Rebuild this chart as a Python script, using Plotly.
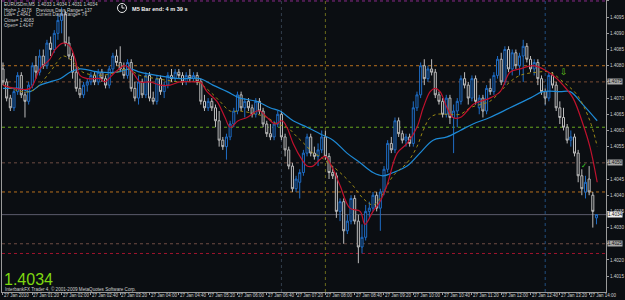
import plotly.graph_objects as go

# ---------------- data ----------------
symbol_header = "EURUSDm,M5  1.4033 1.4034 1.4031 1.4034"
info_left = ["High= 1.4178", "Low= 1.4041", "Close= 1.4083", "Open= 1.4147"]
info_right = ["Previous Days Range= 137", "Current Days Range= 76"]
bar_timer = "M5 Bar end: 4 m 39 s"
last_price = "1.4034"
copyright_text = "InterbankFX Trader 4, \u00a9 2001-2009 MetaQuotes Software Corp."

opens = [
    1.4079, 1.4075, 1.4070, 1.4067, 1.4072, 1.4077, 1.4071, 1.4069, 1.4074, 1.4080,
    1.4078, 1.4083, 1.4080, 1.4087, 1.4085, 1.4090, 1.4094, 1.4096, 1.4087, 1.4083,
    1.4078, 1.4073, 1.4071, 1.4074, 1.4075, 1.4077, 1.4075, 1.4078, 1.4076, 1.4074,
    1.4079, 1.4083, 1.4081, 1.4079, 1.4077, 1.4081, 1.4073, 1.4070, 1.4075, 1.4071,
    1.4077, 1.4070, 1.4069, 1.4076, 1.4072, 1.4074, 1.4077, 1.4076, 1.4078, 1.4077,
    1.4075, 1.4077, 1.4076, 1.4077, 1.4075, 1.4069, 1.4067, 1.4069, 1.4067, 1.4063,
    1.4057, 1.4055, 1.4058, 1.4062, 1.4066, 1.4071, 1.4067, 1.4069, 1.4067, 1.4065,
    1.4069, 1.4066, 1.4062, 1.4059, 1.4058, 1.4062, 1.4065, 1.4058, 1.4054, 1.4049,
    1.4042, 1.4044, 1.4047, 1.4053, 1.4058, 1.4053, 1.4052, 1.4054, 1.4058, 1.4052,
    1.4047, 1.4046, 1.4035, 1.4038, 1.4029, 1.4032, 1.4039, 1.4032, 1.4024, 1.4027,
    1.4035, 1.4036, 1.4040, 1.4036, 1.4041, 1.4048, 1.4056, 1.4054, 1.4063, 1.4059,
    1.4057, 1.4058, 1.4056, 1.4067, 1.4071, 1.4080, 1.4076, 1.4079, 1.4078, 1.4071,
    1.4069, 1.4065, 1.4070, 1.4064, 1.4066, 1.4069, 1.4076, 1.4074, 1.4070, 1.4076,
    1.4067, 1.4070, 1.4066, 1.4073, 1.4072, 1.4077, 1.4082, 1.4075, 1.4085, 1.4079,
    1.4084, 1.4080, 1.4083, 1.4086, 1.4082, 1.4079, 1.4081, 1.4076, 1.4072, 1.4070,
    1.4077, 1.4074, 1.4067, 1.4064, 1.4061, 1.4057, 1.4058, 1.4053, 1.4046, 1.4041,
    1.4045, 1.4040, 1.4033,
]
highs = [
    1.4081, 1.4076, 1.4071, 1.4073, 1.4078, 1.4078, 1.4072, 1.4075, 1.4081, 1.4083,
    1.4085, 1.4085, 1.4088, 1.4089, 1.4091, 1.4096, 1.4098, 1.4097, 1.4089, 1.4084,
    1.4080, 1.4076, 1.4075, 1.4076, 1.4078, 1.4078, 1.4079, 1.4079, 1.4077, 1.4080,
    1.4084, 1.4085, 1.4086, 1.4081, 1.4082, 1.4082, 1.4075, 1.4077, 1.4076, 1.4078,
    1.4078, 1.4072, 1.4077, 1.4077, 1.4075, 1.4078, 1.4079, 1.4079, 1.4079, 1.4078,
    1.4078, 1.4079, 1.4078, 1.4078, 1.4076, 1.4071, 1.4070, 1.4070, 1.4068, 1.4066,
    1.4058, 1.4059, 1.4063, 1.4067, 1.4072, 1.4072, 1.4070, 1.4070, 1.4068, 1.4070,
    1.4070, 1.4067, 1.4063, 1.4062, 1.4063, 1.4066, 1.4066, 1.4059, 1.4055, 1.4050,
    1.4046, 1.4048, 1.4054, 1.4059, 1.4059, 1.4055, 1.4056, 1.4060, 1.4060, 1.4053,
    1.4049, 1.4047, 1.4039, 1.4039, 1.4034, 1.4040, 1.4040, 1.4034, 1.4031, 1.4037,
    1.4038, 1.4041, 1.4041, 1.4042, 1.4049, 1.4057, 1.4058, 1.4064, 1.4064, 1.4060,
    1.4059, 1.4059, 1.4069, 1.4072, 1.4081, 1.4082, 1.4080, 1.4082, 1.4079, 1.4072,
    1.4070, 1.4071, 1.4071, 1.4068, 1.4070, 1.4077, 1.4078, 1.4075, 1.4077, 1.4077,
    1.4071, 1.4071, 1.4074, 1.4076, 1.4078, 1.4083, 1.4084, 1.4086, 1.4086, 1.4085,
    1.4085, 1.4084, 1.4088, 1.4087, 1.4083, 1.4082, 1.4082, 1.4077, 1.4073, 1.4078,
    1.4078, 1.4075, 1.4069, 1.4067, 1.4062, 1.4060, 1.4059, 1.4054, 1.4048, 1.4046,
    1.4049, 1.4041, 1.4034,
]
lows = [
    1.4074, 1.4069, 1.4066, 1.4066, 1.4071, 1.4070, 1.4064, 1.4068, 1.4073, 1.4076,
    1.4077, 1.4079, 1.4079, 1.4083, 1.4084, 1.4088, 1.4090, 1.4086, 1.4082, 1.4076,
    1.4072, 1.4070, 1.4070, 1.4072, 1.4074, 1.4074, 1.4074, 1.4075, 1.4073, 1.4073,
    1.4078, 1.4080, 1.4078, 1.4076, 1.4076, 1.4072, 1.4069, 1.4068, 1.4070, 1.4070,
    1.4069, 1.4068, 1.4068, 1.4071, 1.4070, 1.4073, 1.4075, 1.4075, 1.4076, 1.4074,
    1.4074, 1.4075, 1.4075, 1.4074, 1.4068, 1.4066, 1.4066, 1.4066, 1.4061, 1.4055,
    1.4054, 1.4051, 1.4057, 1.4061, 1.4065, 1.4066, 1.4064, 1.4066, 1.4064, 1.4064,
    1.4065, 1.4061, 1.4058, 1.4057, 1.4057, 1.4061, 1.4057, 1.4052, 1.4048, 1.4041,
    1.4041, 1.4039, 1.4046, 1.4052, 1.4052, 1.4051, 1.4049, 1.4053, 1.4051, 1.4045,
    1.4045, 1.4033, 1.4032, 1.4025, 1.4028, 1.4031, 1.4031, 1.4019, 1.4022, 1.4026,
    1.4033, 1.4035, 1.4035, 1.4029, 1.4040, 1.4047, 1.4053, 1.4053, 1.4058, 1.4056,
    1.4055, 1.4055, 1.4055, 1.4066, 1.4070, 1.4074, 1.4075, 1.4077, 1.4070, 1.4068,
    1.4064, 1.4064, 1.4062, 1.4053, 1.4061, 1.4068, 1.4073, 1.4068, 1.4069, 1.4068,
    1.4065, 1.4064, 1.4065, 1.4071, 1.4071, 1.4076, 1.4074, 1.4074, 1.4078, 1.4077,
    1.4079, 1.4077, 1.4075, 1.4081, 1.4078, 1.4077, 1.4074, 1.4071, 1.4068, 1.4069,
    1.4073, 1.4066, 1.4062, 1.4060, 1.4056, 1.4055, 1.4052, 1.4044, 1.4040, 1.4039,
    1.4040, 1.4030, 1.4031,
]
closes = [
    1.4075, 1.4070, 1.4067, 1.4072, 1.4077, 1.4071, 1.4069, 1.4074, 1.4080, 1.4078,
    1.4083, 1.4080, 1.4087, 1.4085, 1.4090, 1.4094, 1.4096, 1.4087, 1.4083, 1.4078,
    1.4073, 1.4071, 1.4074, 1.4075, 1.4077, 1.4075, 1.4078, 1.4076, 1.4074, 1.4079,
    1.4083, 1.4081, 1.4079, 1.4077, 1.4081, 1.4073, 1.4070, 1.4075, 1.4071, 1.4077,
    1.4070, 1.4069, 1.4076, 1.4072, 1.4074, 1.4077, 1.4076, 1.4078, 1.4077, 1.4075,
    1.4077, 1.4076, 1.4077, 1.4075, 1.4069, 1.4067, 1.4069, 1.4067, 1.4063, 1.4057,
    1.4055, 1.4058, 1.4062, 1.4066, 1.4071, 1.4067, 1.4069, 1.4067, 1.4065, 1.4069,
    1.4066, 1.4062, 1.4059, 1.4058, 1.4062, 1.4065, 1.4058, 1.4054, 1.4049, 1.4042,
    1.4045, 1.4047, 1.4053, 1.4058, 1.4053, 1.4052, 1.4054, 1.4058, 1.4052, 1.4047,
    1.4046, 1.4035, 1.4038, 1.4029, 1.4032, 1.4039, 1.4032, 1.4024, 1.4027, 1.4035,
    1.4036, 1.4040, 1.4036, 1.4041, 1.4048, 1.4056, 1.4054, 1.4063, 1.4059, 1.4057,
    1.4058, 1.4056, 1.4067, 1.4071, 1.4080, 1.4076, 1.4079, 1.4078, 1.4071, 1.4069,
    1.4065, 1.4070, 1.4064, 1.4066, 1.4069, 1.4076, 1.4074, 1.4070, 1.4076, 1.4069,
    1.4070, 1.4066, 1.4073, 1.4072, 1.4077, 1.4082, 1.4075, 1.4085, 1.4079, 1.4084,
    1.4080, 1.4083, 1.4086, 1.4082, 1.4079, 1.4081, 1.4076, 1.4072, 1.4070, 1.4077,
    1.4074, 1.4067, 1.4064, 1.4061, 1.4057, 1.4058, 1.4053, 1.4046, 1.4042, 1.4044,
    1.4041, 1.4035, 1.4034,
]

# moving averages: (bar position, price)
fast_ma_bars = [0, 3.3, 7.4, 10.1, 12.8, 14.2, 16.4, 18.3, 19.7, 21.0, 23.2, 26.5, 27.8, 30.6,
                33.3, 34.7, 36.0, 37.4, 40.1, 42.9, 45.6, 48.3, 51.9, 53.8, 55.7, 58.4, 60.6,
                62.0, 64.2, 66.6, 69.3, 70.2, 72.1, 74.3, 76.2, 77.5, 79.2, 81.6, 83.0, 84.6,
                86.5, 87.9, 90.1, 92.0, 94.7, 97.5, 98.8, 101.0, 102.9, 104.8, 107.6, 110.3,
                113.0, 114.7, 116.6, 117.9, 119.3, 121.2, 122.8, 124.8, 126.7, 128.3, 130.2,
                132.9, 135.7, 138.4, 141.1, 144.7, 147.4, 150.2, 152.9, 155.6, 158.3, 160.2, 162.2]
fast_ma_vals = [1.4074, 1.4073, 1.4073, 1.4079, 1.4082, 1.4085, 1.4087, 1.4086, 1.4082, 1.4077,
                1.4076, 1.4076, 1.4075, 1.4078, 1.4080, 1.4079, 1.4077, 1.4075, 1.4075, 1.4074,
                1.4074, 1.4075, 1.4075, 1.4075, 1.4072, 1.4069, 1.4064, 1.4061, 1.4063, 1.4064,
                1.4066, 1.4066, 1.4064, 1.4062, 1.4063, 1.4061, 1.4056, 1.4051, 1.4049, 1.4049,
                1.4051, 1.4052, 1.4048, 1.4043, 1.4036, 1.4035, 1.4031, 1.4035, 1.4038, 1.4043,
                1.4053, 1.4056, 1.4061, 1.4067, 1.4072, 1.4073, 1.4072, 1.4067, 1.4064, 1.4064,
                1.4066, 1.4068, 1.4069, 1.4070, 1.4072, 1.4078, 1.4079, 1.4080, 1.4079, 1.4077,
                1.4074, 1.4070, 1.4062, 1.4055, 1.4044]

slow_ma_bars = [0, 7.4, 12.8, 14.7, 16.4, 18.3, 20.2, 21.8, 26.5, 31.1, 33.9, 37.4, 42.0, 48.3,
                53.0, 56.5, 59.2, 62.0, 64.7, 69.3, 72.1, 74.8, 77.5, 80.3, 83.0, 84.6, 86.5,
                88.8, 92.0, 95.5, 98.3, 101.0, 102.9, 106.5, 110.3, 113.0, 114.7, 116.6, 118.5,
                121.2, 124.8, 127.5, 130.2, 132.9, 138.4, 141.1, 145.8, 149.3, 152.9, 156.7,
                160.2, 162.2]
slow_ma_vals = [1.4074, 1.4072, 1.4078, 1.4081, 1.4083, 1.4082, 1.4080, 1.4078, 1.4077, 1.4078,
                1.4079, 1.4077, 1.4076, 1.4075, 1.4075, 1.4072, 1.4069, 1.4066, 1.4066, 1.4065,
                1.4064, 1.4062, 1.4061, 1.4058, 1.4055, 1.4053, 1.4052, 1.4050, 1.4047, 1.4043,
                1.4039, 1.4037, 1.4039, 1.4046, 1.4050, 1.4055, 1.4060, 1.4064, 1.4065, 1.4065,
                1.4065, 1.4067, 1.4068, 1.4069, 1.4075, 1.4077, 1.4078, 1.4078, 1.4075, 1.4071,
                1.4063, 1.4055]

trend_ma_bars = [0, 1.9, 4.6, 7.4, 10.1, 12.8, 15.6, 18.3, 21.0, 26.5, 31.1, 34.7, 37.4, 42.0,
                 48.3, 53.8, 57.3, 61.2, 64.7, 69.3, 72.9, 75.6, 79.2, 83.0, 86.5, 90.1, 93.9,
                 97.5, 101.0, 103.7, 106.5, 110.3, 113.8, 117.4, 121.2, 124.8, 128.3, 132.9,
                 138.4, 143.9, 147.4, 152.1, 154.8, 158.3, 162.2]
trend_ma_vals = [1.4073, 1.4073, 1.4073, 1.4072, 1.4074, 1.4075, 1.4076, 1.4078, 1.4079, 1.4078,
                 1.4078, 1.4079, 1.4078, 1.4077, 1.4076, 1.4076, 1.4074, 1.4072, 1.4070, 1.4069,
                 1.4067, 1.4066, 1.4063, 1.4061, 1.4059, 1.4057, 1.4053, 1.4050, 1.4047, 1.4046,
                 1.4047, 1.4049, 1.4053, 1.4057, 1.4058, 1.4060, 1.4062, 1.4064, 1.4067, 1.4070,
                 1.4072, 1.4072, 1.4072, 1.4068, 1.4063]

# axis ticks
x_tick_bars = [0, 8, 16, 24, 32, 40, 48, 56, 64, 72, 80, 88, 96, 104, 112, 120, 128, 136, 144, 152, 160]
x_tick_labels = ["27 Jan 2010", "27 Jan 01:20", "27 Jan 02:00", "27 Jan 02:40", "27 Jan 03:20",
                 "27 Jan 04:00", "27 Jan 04:40", "27 Jan 05:20", "27 Jan 06:00", "27 Jan 06:40",
                 "27 Jan 07:20", "27 Jan 08:00", "27 Jan 08:40", "27 Jan 09:20", "27 Jan 10:00",
                 "27 Jan 10:40", "27 Jan 11:20", "27 Jan 12:00", "27 Jan 12:40", "27 Jan 13:20",
                 "27 Jan 14:00"]
y_tick_vals = [1.4015, 1.4020, 1.4025, 1.4030, 1.4035, 1.4040, 1.4045, 1.4050, 1.4055, 1.4060,
               1.4065, 1.4070, 1.4075, 1.4080, 1.4085, 1.4090, 1.4095, 1.4100]
y_tick_labels = ["1.4015", "1.4020", "1.4025", "1.4030", "1.4035", "1.4040", "1.4045", "1.4050",
                 "1.4055", "1.4060", "1.4065", "1.4070", "1.4075", "1.4080", "1.4085", "1.4090",
                 "1.4095", "1.4100"]

# horizontal price levels and vertical session lines
level_prices = [1.4100, 1.4080, 1.4075, 1.4061, 1.4050, 1.4041, 1.4034, 1.4025, 1.4022]
boxed_prices = [1.4075, 1.4050, 1.4034, 1.4025]
boxed_labels = ["1.4075", "1.4050", "1.4034", "1.4025"]
session_bars = [76, 88, 148]
signal_down_bar, signal_down_price = 153, 1.4078
signal_check_bar, signal_check_price = 158.5, 1.4049

# ---------------- styles ----------------
BG = "#0b0e12"
BULL = "#1f6dc6"
BEAR = "#bdbdbd"
TXT = "#cfcfcf"
FONT = "Liberation Sans, Arial"
level_styles = [
    dict(color="#8a2a8a", dash="dot"),
    dict(color="#b8701e", dash="dot"),
    dict(color="#7a4c34", dash="dot"),
    dict(color="#6aaa1e", dash="dot"),
    dict(color="#6e4c44", dash="dot"),
    dict(color="#b8701e", dash="dot"),
    dict(color="#5c5c6c", dash="solid"),
    dict(color="#6e4c44", dash="dot"),
    dict(color="#a0142e", dash="dot"),
]
session_colors = ["#323e4c", "#6a6a1c", "#204e7e"]
box_colors = ["#a8a8a8", "#a8a8a8", "#f0f0f0", "#a8a8a8"]

X_LEFT, X_RIGHT, Y_BOTTOM = 2, 606, 292


def px_x(px):
    return (px - X_LEFT) / (X_RIGHT - X_LEFT)


def px_y(py):
    return (Y_BOTTOM - py) / Y_BOTTOM


bars = list(range(len(opens)))

fig = go.Figure()
fig.add_trace(go.Candlestick(
    x=bars, open=opens, high=highs, low=lows, close=closes,
    increasing=dict(line=dict(color=BULL, width=1), fillcolor=BG),
    decreasing=dict(line=dict(color=BEAR, width=1), fillcolor=BG),
    whiskerwidth=0, hoverinfo="skip", showlegend=False,
))
fig.add_trace(go.Scatter(x=trend_ma_bars, y=trend_ma_vals, mode="lines",
                         line=dict(color="#1e8ad6", width=1.2, shape="spline"),
                         hoverinfo="skip", showlegend=False))
fig.add_trace(go.Scatter(x=slow_ma_bars, y=slow_ma_vals, mode="lines",
                         line=dict(color="#9c8a14", width=1, dash="dot", shape="spline"),
                         hoverinfo="skip", showlegend=False))
fig.add_trace(go.Scatter(x=fast_ma_bars, y=fast_ma_vals, mode="lines",
                         line=dict(color="#c0122e", width=1.2, shape="spline"),
                         hoverinfo="skip", showlegend=False))

shapes = []
for p, st in zip(level_prices, level_styles):
    shapes.append(dict(type="line", xref="paper", x0=0, x1=1, yref="y", y0=p, y1=p,
                       line=dict(color=st["color"], width=1, dash=st["dash"]), layer="below"))
for b, c in zip(session_bars, session_colors):
    shapes.append(dict(type="line", xref="x", x0=b, x1=b, yref="paper", y0=0, y1=1,
                       line=dict(color=c, width=1, dash="dot"), layer="below"))
# clock icon
shapes.append(dict(type="circle", xref="paper", yref="paper",
                   x0=px_x(117.5), x1=px_x(126.5), y0=px_y(12.5), y1=px_y(3.5),
                   line=dict(color="#e8e8e8", width=1)))
shapes.append(dict(type="line", xref="paper", yref="paper",
                   x0=px_x(122), x1=px_x(122), y0=px_y(8), y1=px_y(5),
                   line=dict(color="#e8e8e8", width=1)))
shapes.append(dict(type="line", xref="paper", yref="paper",
                   x0=px_x(122), x1=px_x(124.5), y0=px_y(8), y1=px_y(8),
                   line=dict(color="#e8e8e8", width=1)))

ann = []
small = dict(family=FONT, size=4.6, color=TXT)
ann.append(dict(xref="paper", yref="paper", x=px_x(2), y=px_y(5), text=symbol_header,
                showarrow=False, xanchor="left", yanchor="middle", font=small))
for k, t in enumerate(info_left):
    ann.append(dict(xref="paper", yref="paper", x=px_x(2), y=px_y(10 + 5 * k), text=t,
                    showarrow=False, xanchor="left", yanchor="middle", font=small))
for k, t in enumerate(info_right):
    ann.append(dict(xref="paper", yref="paper", x=px_x(34), y=px_y(10 + 5 * k), text=t,
                    showarrow=False, xanchor="left", yanchor="middle", font=small))
ann.append(dict(xref="paper", yref="paper", x=px_x(130), y=px_y(9), text="<b>" + bar_timer + "</b>",
                showarrow=False, xanchor="left", yanchor="middle",
                font=dict(family=FONT, size=5.6, color="#f0f0f0")))
ann.append(dict(xref="paper", yref="paper", x=px_x(2), y=px_y(279.5), text=last_price,
                showarrow=False, xanchor="left", yanchor="middle",
                font=dict(family=FONT, size=16, color="#7fd810")))
ann.append(dict(xref="paper", yref="paper", x=px_x(3), y=px_y(288.8), text=copyright_text,
                showarrow=False, xanchor="left", yanchor="middle", font=small))
# time labels, left-aligned at their tick like the terminal does
for b, t in zip(x_tick_bars, x_tick_labels):
    ann.append(dict(xref="x", yref="paper", x=b, y=px_y(295.8), text=t, showarrow=False,
                    xanchor="left", yanchor="middle", xshift=-1,
                    font=dict(family=FONT, size=4.5, color=TXT)))
# boxed price labels on the axis
for p, t, c in zip(boxed_prices, boxed_labels, box_colors):
    ann.append(dict(xref="paper", yref="y", x=1, y=p, text=t, showarrow=False,
                    xanchor="left", yanchor="middle", xshift=1, bgcolor=c, borderpad=0,
                    font=dict(family=FONT, size=4.6, color="#101010")))
ann.append(dict(xref="x", yref="y", x=signal_down_bar, y=signal_down_price, text="\u21e9",
                showarrow=False, font=dict(family="DejaVu Sans", size=9, color="#66c81a")))
ann.append(dict(xref="x", yref="y", x=signal_check_bar, y=signal_check_price, text="\u2713",
                showarrow=False, font=dict(family="DejaVu Sans", size=7, color="#3ccc2a")))

# axis tick text: prices that carry a boxed label show only the box
y_axis_text = ["" if v in boxed_prices else t for v, t in zip(y_tick_vals, y_tick_labels)]

fig.update_layout(
    width=625, height=300,
    margin=dict(l=X_LEFT, r=625 - X_RIGHT, t=0, b=300 - Y_BOTTOM),
    paper_bgcolor=BG, plot_bgcolor=BG,
    showlegend=False, boxgap=0.2,
    shapes=shapes, annotations=ann,
    xaxis=dict(range=[-0.27, 164.6], showgrid=False, zeroline=False, showline=True,
               linecolor="#9a9a9a", linewidth=1, ticks="outside", ticklen=2, tickcolor="#9a9a9a",
               tickvals=x_tick_bars, showticklabels=False,
               rangeslider=dict(visible=False), automargin=False, fixedrange=True),
    yaxis=dict(range=[1.40101, 1.41003], side="right", showgrid=False, zeroline=False,
               showline=True, mirror=True, linecolor="#9a9a9a", linewidth=1,
               ticks="outside", ticklen=2, tickcolor="#9a9a9a",
               tickvals=y_tick_vals, ticktext=y_axis_text,
               tickfont=dict(family=FONT, size=4.6, color=TXT),
               automargin=False, fixedrange=True),
)

fig.write_html("out.html")
